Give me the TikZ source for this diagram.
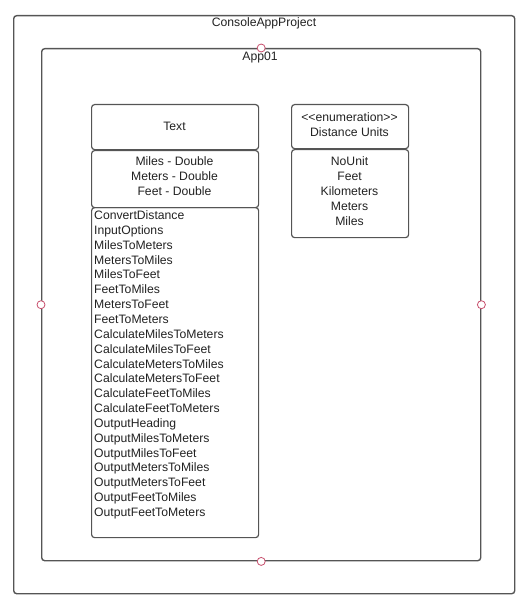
\documentclass[tikz,border=0pt]{standalone}
\usepackage{fontspec}
\setmainfont{Liberation Sans}
\definecolor{edge}{HTML}{555555}
\definecolor{port}{HTML}{C8506E}
\definecolor{ink}{HTML}{222222}
\tikzset{
  frame/.style={draw=edge, line width=1.4pt, rounded corners=3pt, anchor=north west, inner sep=0pt},
  part/.style={draw=edge, line width=1.2pt, rounded corners=3pt, anchor=north west, inner sep=0pt},
  lbl/.style={inner sep=0pt, align=center, text=ink, font=\fontsize{12.2}{15}\selectfont},
  portc/.style={circle, draw=port, fill=white, line width=0.8pt, minimum size=8pt, inner sep=0pt}
}
\begin{document}
\begin{tikzpicture}[x=1pt,y=-1pt]
\useasboundingbox (0,0) rectangle (529,607);
\node (outer) [frame, minimum width=501pt, minimum height=578pt] at (13,15) {};
\node (inner) [frame, minimum width=439pt, minimum height=512pt] at (41,48) {};
\node (outerlbl) [lbl] at (264,23.5) {ConsoleAppProject};
\node (innerlbl) [lbl] at (260,57.5) {App01};
\node (pn) [portc] at (inner.north) {};
\node (ps) [portc] at (inner.south) {};
\node (pw) [portc] at (inner.west) {};
\node (pe) [portc] at (inner.east) {};
% Text class
\node (texttitle) [part, minimum width=167pt, minimum height=45pt] at (91,104) {};
\node (texttitlelbl) [lbl] at (174.5,126) {Text};
\node (textattr) [part, minimum width=167pt, minimum height=57pt] at (91,150) {};
\node (textattrlbl) [lbl] at (174.5,176) {Miles - Double\\Meters - Double\\Feet - Double};
\node (textops) [part, minimum width=167pt, minimum height=330pt] at (91,207) {};
\node (textopslbl) [lbl, anchor=north west, align=left, font=\fontsize{12.2}{14.85}\selectfont] at (94,210.5) {ConvertDistance\\InputOptions\\MilesToMeters\\MetersToMiles\\MilesToFeet\\FeetToMiles\\MetersToFeet\\FeetToMeters\\CalculateMilesToMeters\\CalculateMilesToFeet\\CalculateMetersToMiles\\CalculateMetersToFeet\\CalculateFeetToMiles\\CalculateFeetToMeters\\OutputHeading\\OutputMilesToMeters\\OutputMilesToFeet\\OutputMetersToMiles\\OutputMetersToFeet\\OutputFeetToMiles\\OutputFeetToMeters};
% Enumeration
\node (enumtitle) [part, minimum width=117pt, minimum height=44pt] at (291,104) {};
\node (enumtitlelbl) [lbl] at (349.5,125) {{<}{<}enumeration{>}{>}\\Distance Units};
\node (enumvals) [part, minimum width=117pt, minimum height=88pt] at (291,149) {};
\node (enumvalslbl) [lbl] at (349.5,191) {NoUnit\\Feet\\Kilometers\\Meters\\Miles};
\end{tikzpicture}
\end{document}
